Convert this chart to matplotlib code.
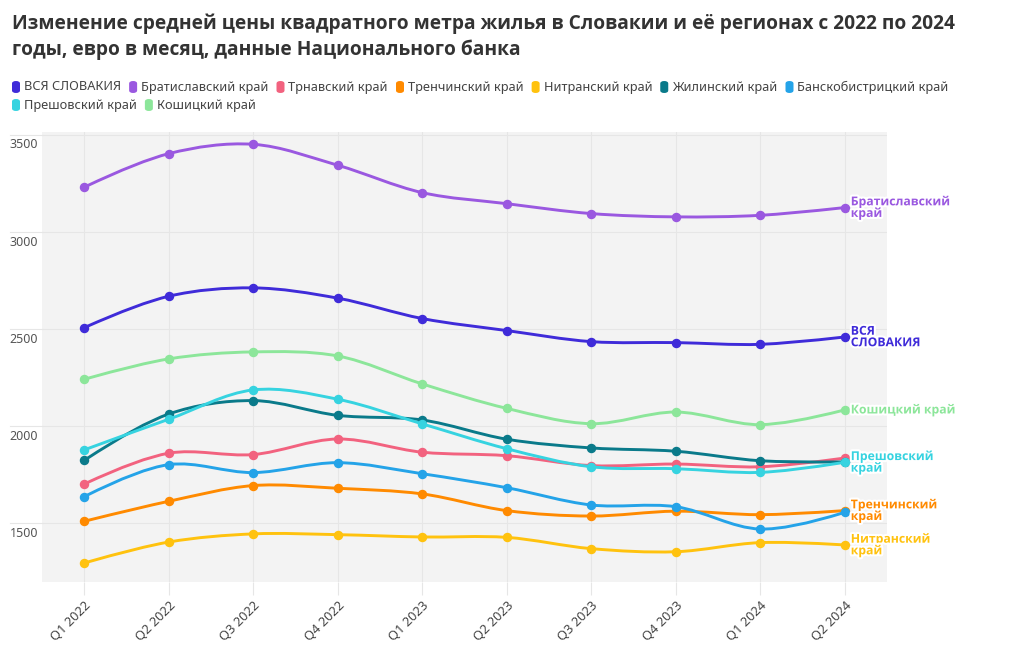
import matplotlib
matplotlib.use('Agg')
import matplotlib.pyplot as plt
from matplotlib.path import Path
from matplotlib.patches import PathPatch, FancyBboxPatch
import matplotlib.patheffects as pe
import matplotlib.transforms as mtransforms
import numpy as np

plt.rcParams['font.family'] = ['Noto Sans', 'DejaVu Sans']
BOLD_FAM = ['Open Sans', 'Roboto', 'DejaVu Sans']

# ---------------- data ----------------
quarters = ['Q1 2022', 'Q2 2022', 'Q3 2022', 'Q4 2022', 'Q1 2023',
            'Q2 2023', 'Q3 2023', 'Q4 2023', 'Q1 2024', 'Q2 2024']

names = ['ВСЯ СЛОВАКИЯ', 'Братиславский край', 'Трнавский край', 'Тренчинский край',
         'Нитранский край', 'Жилинский край', 'Банскобистрицкий край',
         'Прешовский край', 'Кошицкий край']

slovakia      = [2507, 2669, 2712, 2659, 2554, 2492, 2435, 2430, 2421, 2459]
bratislava    = [3231, 3404, 3452, 3344, 3203, 3146, 3095, 3078, 3086, 3126]
trnava        = [1701, 1860, 1853, 1933, 1865, 1847, 1796, 1804, 1790, 1835]
trencin       = [1509, 1612, 1693, 1679, 1650, 1564, 1536, 1561, 1543, 1564]
nitra         = [1294, 1402, 1444, 1440, 1428, 1426, 1368, 1352, 1399, 1387]
zilina        = [1823, 2062, 2131, 2055, 2031, 1932, 1887, 1870, 1821, 1815]
banska        = [1636, 1801, 1760, 1811, 1754, 1682, 1593, 1584, 1469, 1555]
presov        = [1877, 2035, 2186, 2138, 2011, 1883, 1790, 1780, 1761, 1813]
kosice        = [2241, 2346, 2382, 2361, 2217, 2091, 2012, 2072, 2007, 2083]

values = [slovakia, bratislava, trnava, trencin, nitra, zilina, banska, presov, kosice]

colors = ['#3f2bd9', '#9a58e0', '#f2627f', '#ff8a00', '#ffc20e',
          '#0a7a8a', '#24a3e8', '#36d3e0', '#8ce69a']

end_labels = {0: 'ВСЯ\nСЛОВАКИЯ', 1: 'Братиславский\nкрай', 3: 'Тренчинский\nкрай',
              4: 'Нитранский\nкрай', 7: 'Прешовский\nкрай', 8: 'Кошицкий край'}

yticks = [1500, 2000, 2500, 3000, 3500]

# ---------------- layout ----------------
W, H = 1020, 650
fig = plt.figure(figsize=(W / 100, H / 100), dpi=100)
fig.patch.set_facecolor('white')
L, R, T, B = 42, 887, 131.7, 582
ax = fig.add_axes([L / W, 1 - B / H, (R - L) / W, (B - T) / H])
ax.set_facecolor('#f3f3f3')
x = np.arange(len(quarters))
ax.set_xlim(-0.5, len(quarters) - 0.5)
ax.set_ylim(1196, 3517)
for s in ax.spines.values():
    s.set_visible(False)

grid_c = '#e6e6e6'
ax.set_yticks(yticks)
ax.set_yticklabels([])
ax.tick_params(axis='y', length=0)
ax.set_xticks(x)
ax.set_xticklabels(quarters, rotation=45, ha='right', va='top',
                   rotation_mode='anchor', fontsize=9.3, color='#444')
ax.tick_params(axis='x', length=9, color=grid_c, width=0.8, pad=3)
ax.grid(True, color=grid_c, lw=0.8)
ax.set_axisbelow(True)

# y labels sit just below their gridlines
ytr = mtransforms.offset_copy(ax.get_yaxis_transform(), fig=fig, x=-4, y=-10, units='dots')
for v in yticks:
    ax.text(0, v, f'{v}', transform=ytr, ha='right', va='center',
            fontsize=9.0, color='#555')
    ax.plot([-(L - 10) / (R - L), 0], [v, v], transform=ax.get_yaxis_transform(),
            color=grid_c, lw=0.8, clip_on=False, zorder=0)


def spline_path(ax, xs, ys, smooth=1.0):
    pts = ax.transData.transform(np.column_stack([xs, ys]).astype(float))
    n = len(pts)
    tang = []
    for i in range(1, n - 1):
        p0, p1, p2 = pts[i - 1], pts[i], pts[i + 1]
        d1 = p0 - p1
        d2 = p2 - p1
        d1a = (d1 @ d1) ** 0.25
        d2a = (d2 @ d2) ** 0.25
        num = (d2a * d2a * d1 - d1a * d1a * d2) * smooth
        den1 = 3 * d2a * (d1a + d2a)
        den2 = 3 * d1a * (d1a + d2a)
        tang.append((p1 + num / den1, p1 - num / den2))
    verts = [pts[0], tang[0][0], pts[1]]
    codes = [Path.MOVETO, Path.CURVE3, Path.CURVE3]
    for i in range(2, n - 1):
        verts += [tang[i - 2][1], tang[i - 1][0], pts[i]]
        codes += [Path.CURVE4] * 3
    verts += [tang[n - 3][1], pts[n - 1]]
    codes += [Path.CURVE3, Path.CURVE3]
    verts = ax.transData.inverted().transform(np.array(verts))
    return Path(verts, codes)


for i, (vals, c) in enumerate(zip(values, colors)):
    z = 3 + i * 0.1
    patch = PathPatch(spline_path(ax, x, vals), facecolor='none', edgecolor=c,
                      lw=2.1, capstyle='round', joinstyle='round', zorder=z)
    ax.add_patch(patch)
    ax.plot(x, vals, 'o', ms=5.8, color=c, mec=c, zorder=z + 0.05)

# end labels
lbl_tr = mtransforms.offset_copy(ax.transData, fig=fig, x=6, y=0, units='dots')
for i, txt in end_labels.items():
    ax.text(x[-1], values[i][-1], txt, transform=lbl_tr, ha='left', va='center',
            fontsize=8.8, fontweight='bold', family=BOLD_FAM, color=colors[i],
            linespacing=0.85, zorder=10, clip_on=False,
            path_effects=[pe.withStroke(linewidth=3, foreground='white')])

# title
renderer = fig.canvas.get_renderer()
t1 = fig.text(12 / W, 1 - 24 / H,
              'Изменение средней цены квадратного метра жилья в Словакии и её регионах с 2022 по 2024',
              ha='left', va='center', fontsize=14, fontweight='bold', family=BOLD_FAM,
              color='#333333')
w1 = t1.get_window_extent(renderer).width
fs = 14 * 948 / w1
t1.set_fontsize(fs)
fig.text(12 / W, 1 - 50 / H, 'годы, евро в месяц, данные Национального банка',
         ha='left', va='center', fontsize=fs, fontweight='bold', family=BOLD_FAM,
         color='#333333')

# legend
rows = [[0, 1, 2, 3, 4, 5, 6], [7, 8]]
row_y = [87, 105]
leg_fs = 9.2
for r, idxs in enumerate(rows):
    cx = 12
    cy = row_y[r]
    for i in idxs:
        fig.patches.append(FancyBboxPatch((cx / W, 1 - (cy + 6) / H), 8 / W, 12 / H,
                                          boxstyle='round,pad=0,rounding_size=0.004',
                                          transform=fig.transFigure, facecolor=colors[i],
                                          edgecolor='none', figure=fig))
        t = fig.text((cx + 12) / W, 1 - cy / H, names[i], ha='left', va='center',
                     fontsize=leg_fs, color='#444')
        wt = t.get_window_extent(renderer).width
        cx = cx + 12 + wt + 8

fig.savefig('out.png', dpi=100)
